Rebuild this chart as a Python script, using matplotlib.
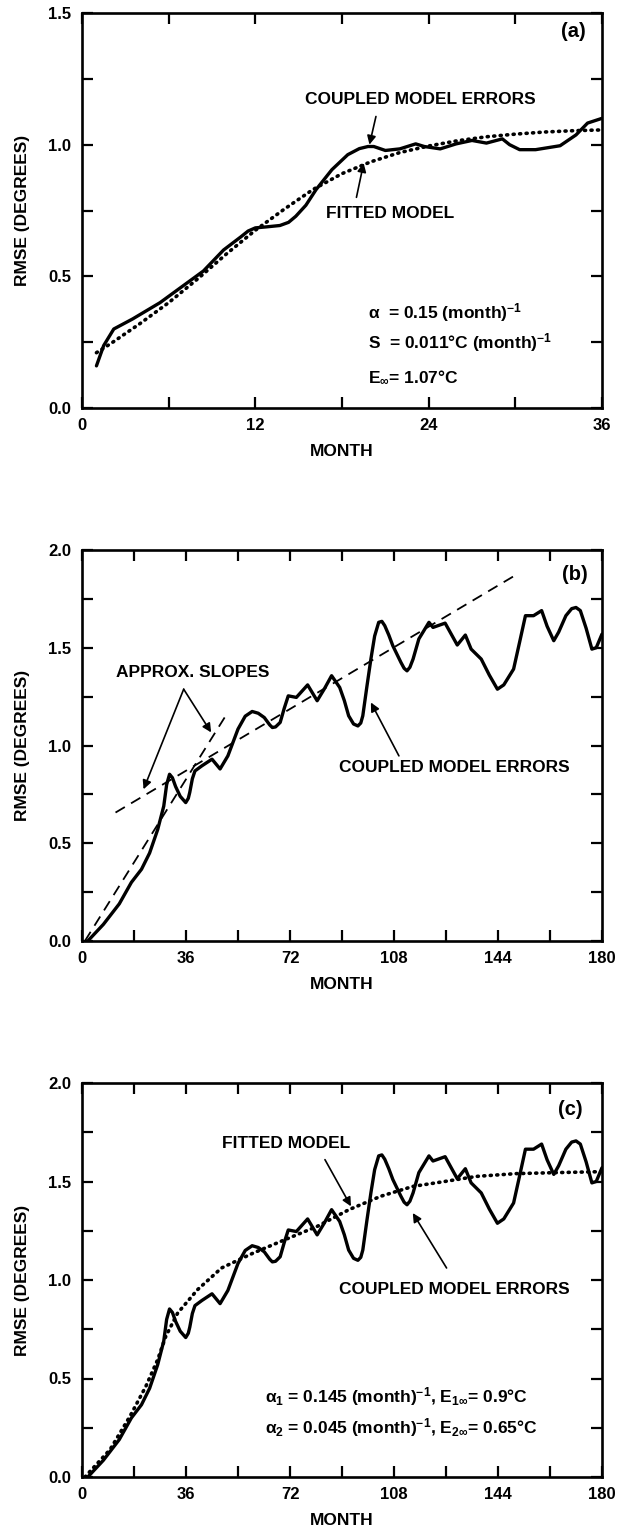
import matplotlib
matplotlib.use("Agg")
import matplotlib.pyplot as plt
from matplotlib.ticker import MultipleLocator, FormatStrFormatter

plt.rcParams['font.family'] = ['Liberation Sans', 'DejaVu Sans']
plt.rcParams['font.weight'] = 'bold'
plt.rcParams['mathtext.fontset'] = 'custom'
plt.rcParams['mathtext.rm'] = 'Liberation Sans:bold'
plt.rcParams['mathtext.bf'] = 'Liberation Sans:bold'
plt.rcParams['mathtext.it'] = 'Liberation Sans:bold:italic'
plt.rcParams['mathtext.default'] = 'bf'

# panel (a): first 36 months
month_a = [1, 1.5, 2.2, 3.5, 5.4, 7.3, 8.4, 9.8, 11.0, 11.5, 12, 12.8, 13.7,
           14.3, 14.8, 15.5, 16.2, 17.3, 18.4, 19.2, 19.8, 20.2, 21, 22, 23.1,
           23.7, 24.8, 25.9, 27, 28, 29.1, 29.6, 30.3, 31.4, 33.1, 34.2, 35, 36]
rmse_a = [0.16, 0.237, 0.30, 0.338, 0.40, 0.476, 0.52, 0.60, 0.65, 0.672,
          0.684, 0.688, 0.693, 0.705, 0.728, 0.77, 0.829, 0.905, 0.962, 0.985,
          0.993, 0.993, 0.978, 0.984, 1.003, 0.993, 0.984, 1.003, 1.016,
          1.006, 1.022, 1.0, 0.981, 0.981, 0.996, 1.037, 1.082, 1.10]
fit_month_a = [1, 2, 4, 6, 8, 10, 12, 14, 16, 18, 20, 22, 24, 26, 28, 30, 32, 34, 36]
fit_a = [0.21, 0.245, 0.32, 0.40, 0.49, 0.585, 0.675, 0.755, 0.83, 0.89,
         0.935, 0.97, 0.995, 1.015, 1.03, 1.04, 1.048, 1.053, 1.056]

# panels (b) and (c): 180 months
month_bc = [2, 7.4, 12.9, 17.1, 20.6, 23.4, 26.2, 28.3, 29.3, 30.3, 31.3, 32.4,
            34.0, 35.9, 36.8, 37.3, 38.2, 39.1, 41.5, 45.0, 47.8, 50.5, 54.0,
            56.5, 58.9, 61.0, 63.1, 65.0, 65.9, 67.0, 68.6, 70.0, 71.4, 74.2,
            78.1, 81.4, 83.9, 86.4, 89.2, 90.8, 92.3, 94.0, 95.5, 96.5, 97.2,
            98.6, 100, 101.3, 102.7, 103.8, 104.8, 106.2, 107.6, 110.4, 111.5,
            112.5, 113.5, 114.6, 116.6, 120.1, 121.5, 125.7, 129.9, 132.7,
            134.7, 138.2, 141.0, 143.8, 146.0, 149.4, 151.5, 153.5, 156.3,
            159.1, 161.0, 163.3, 165.0, 167.5, 169.5, 171.0, 172.5, 174.5,
            176.5, 178.0, 180]
rmse_bc = [0.0, 0.085, 0.19, 0.30, 0.367, 0.45, 0.57, 0.69, 0.80, 0.853, 0.835,
           0.79, 0.74, 0.708, 0.73, 0.76, 0.83, 0.87, 0.896, 0.93, 0.88, 0.947,
           1.084, 1.15, 1.174, 1.165, 1.143, 1.105, 1.092, 1.095, 1.118, 1.19,
           1.254, 1.246, 1.31, 1.229, 1.29, 1.357, 1.297, 1.23, 1.152, 1.11,
           1.10, 1.115, 1.152, 1.30, 1.442, 1.56, 1.63, 1.635, 1.613, 1.565,
           1.51, 1.425, 1.395, 1.382, 1.40, 1.442, 1.545, 1.63, 1.604, 1.626,
           1.514, 1.565, 1.493, 1.442, 1.36, 1.288, 1.31, 1.391, 1.53, 1.664,
           1.664, 1.69, 1.61, 1.536, 1.58, 1.664, 1.70, 1.706, 1.69, 1.60,
           1.493, 1.50, 1.57]

slope1_month = [1, 50.5]
slope1_rmse = [0.0, 1.17]
slope2_month = [11.6, 150.7]
slope2_rmse = [0.657, 1.877]

fit_month_c = [1, 9.7, 16.6, 22.1, 26.2, 29, 33.1, 40, 48.3, 59.3, 70.3, 81.4,
               92.4, 103.4, 114.5, 125.5, 136.6, 150.3, 164, 180]
fit_c = [0.0, 0.139, 0.308, 0.46, 0.596, 0.714, 0.832, 0.951, 1.061, 1.137,
         1.205, 1.272, 1.357, 1.425, 1.475, 1.50, 1.526, 1.54, 1.545, 1.55]

W, H = 624, 1529
fig = plt.figure(figsize=(W / 100, H / 100), dpi=100)


def make_axes(top, bottom):
    ax = fig.add_axes([82 / W, 1 - bottom / H, 520 / W, (bottom - top) / H])
    for s in ax.spines.values():
        s.set_linewidth(1.9)
    ax.tick_params(which='both', direction='in', length=8, width=1.6,
                   top=True, right=True, labelsize=12)
    ax.tick_params(axis='x', pad=7)
    ax.tick_params(axis='y', pad=8)
    ax.yaxis.set_major_formatter(FormatStrFormatter('%.1f'))
    ax.set_xlabel('MONTH', fontsize=12.5, fontweight='bold', labelpad=8)
    ax.set_ylabel('RMSE (DEGREES)', fontsize=12.5, fontweight='bold', labelpad=13)
    return ax


def arrow(ax, start, end):
    ax.annotate('', xy=end, xytext=start,
                arrowprops=dict(arrowstyle='-|>', color='k', lw=1.2,
                                mutation_scale=13, shrinkA=0, shrinkB=0))


solid = dict(color='k', lw=2.4, solid_joinstyle='round', solid_capstyle='round')
dotted = dict(color='k', lw=2.6, ls=(0, (0.3, 1.5)), dash_capstyle='round')
dashed = dict(color='k', lw=1.3, ls=(0, (6, 4)))

# (a)
ax = make_axes(13, 408)
ax.plot(fit_month_a, fit_a, **dotted)
ax.plot(month_a, rmse_a, **solid)
ax.set_xlim(0, 36)
ax.set_ylim(0, 1.5)
ax.xaxis.set_major_locator(MultipleLocator(12))
ax.xaxis.set_minor_locator(MultipleLocator(6))
ax.yaxis.set_major_locator(MultipleLocator(0.5))
ax.yaxis.set_minor_locator(MultipleLocator(0.25))
ax.text(34, 1.43, '(a)', fontsize=14.5, ha='center', va='center')
ax.text(23.4, 1.17, 'COUPLED MODEL ERRORS', fontsize=12.5, ha='center', va='center')
arrow(ax, (20.35, 1.107), (19.9, 1.0))
ax.text(21.3, 0.74, 'FITTED MODEL', fontsize=12.5, ha='center', va='center')
arrow(ax, (19.0, 0.80), (19.5, 0.93))
ax.text(19.8, 0.363, r'$\alpha$  = 0.15 (month)$^{-1}$', fontsize=12.5, va='center')
ax.text(19.8, 0.25, r'S  = 0.011$\degree$C (month)$^{-1}$', fontsize=12.5, va='center')
ax.text(19.8, 0.117, r'E$_\infty$= 1.07$\degree$C', fontsize=12.5, va='center')

# (b)
ax = make_axes(550, 941)
ax.plot(slope1_month, slope1_rmse, **dashed)
ax.plot(slope2_month, slope2_rmse, **dashed)
ax.plot(month_bc, rmse_bc, **solid)
ax.set_xlim(0, 180)
ax.set_ylim(0, 2.0)
ax.xaxis.set_major_locator(MultipleLocator(36))
ax.xaxis.set_minor_locator(MultipleLocator(18))
ax.yaxis.set_major_locator(MultipleLocator(0.5))
ax.yaxis.set_minor_locator(MultipleLocator(0.25))
ax.text(170.5, 1.877, '(b)', fontsize=14.5, ha='center', va='center')
ax.text(38.4, 1.374, 'APPROX. SLOPES', fontsize=12.5, ha='center', va='center')
arrow(ax, (35.2, 1.288), (21.3, 0.776))
arrow(ax, (35.2, 1.288), (44.7, 1.067))
ax.text(129, 0.887, 'COUPLED MODEL ERRORS', fontsize=12.5, ha='center', va='center')
arrow(ax, (109.7, 0.947), (100, 1.22))

# (c)
ax = make_axes(1083, 1477)
ax.plot(fit_month_c, fit_c, **dotted)
ax.plot(month_bc, rmse_bc, **solid)
ax.set_xlim(0, 180)
ax.set_ylim(0, 2.0)
ax.xaxis.set_major_locator(MultipleLocator(36))
ax.xaxis.set_minor_locator(MultipleLocator(18))
ax.yaxis.set_major_locator(MultipleLocator(0.5))
ax.yaxis.set_minor_locator(MultipleLocator(0.25))
ax.text(169, 1.865, '(c)', fontsize=14.5, ha='center', va='center')
ax.text(70.7, 1.695, 'FITTED MODEL', fontsize=12.5, ha='center', va='center')
arrow(ax, (84.1, 1.611), (93.1, 1.374))
ax.text(129, 0.951, 'COUPLED MODEL ERRORS', fontsize=12.5, ha='center', va='center')
arrow(ax, (126.2, 1.061), (114.5, 1.34))
ax.text(63.4, 0.409, r'$\alpha_1$ = 0.145 (month)$^{-1}$, E$_{1\infty}$= 0.9$\degree$C',
        fontsize=12.5, va='center')
ax.text(63.4, 0.249, r'$\alpha_2$ = 0.045 (month)$^{-1}$, E$_{2\infty}$= 0.65$\degree$C',
        fontsize=12.5, va='center')

fig.savefig('out.png', dpi=100)
